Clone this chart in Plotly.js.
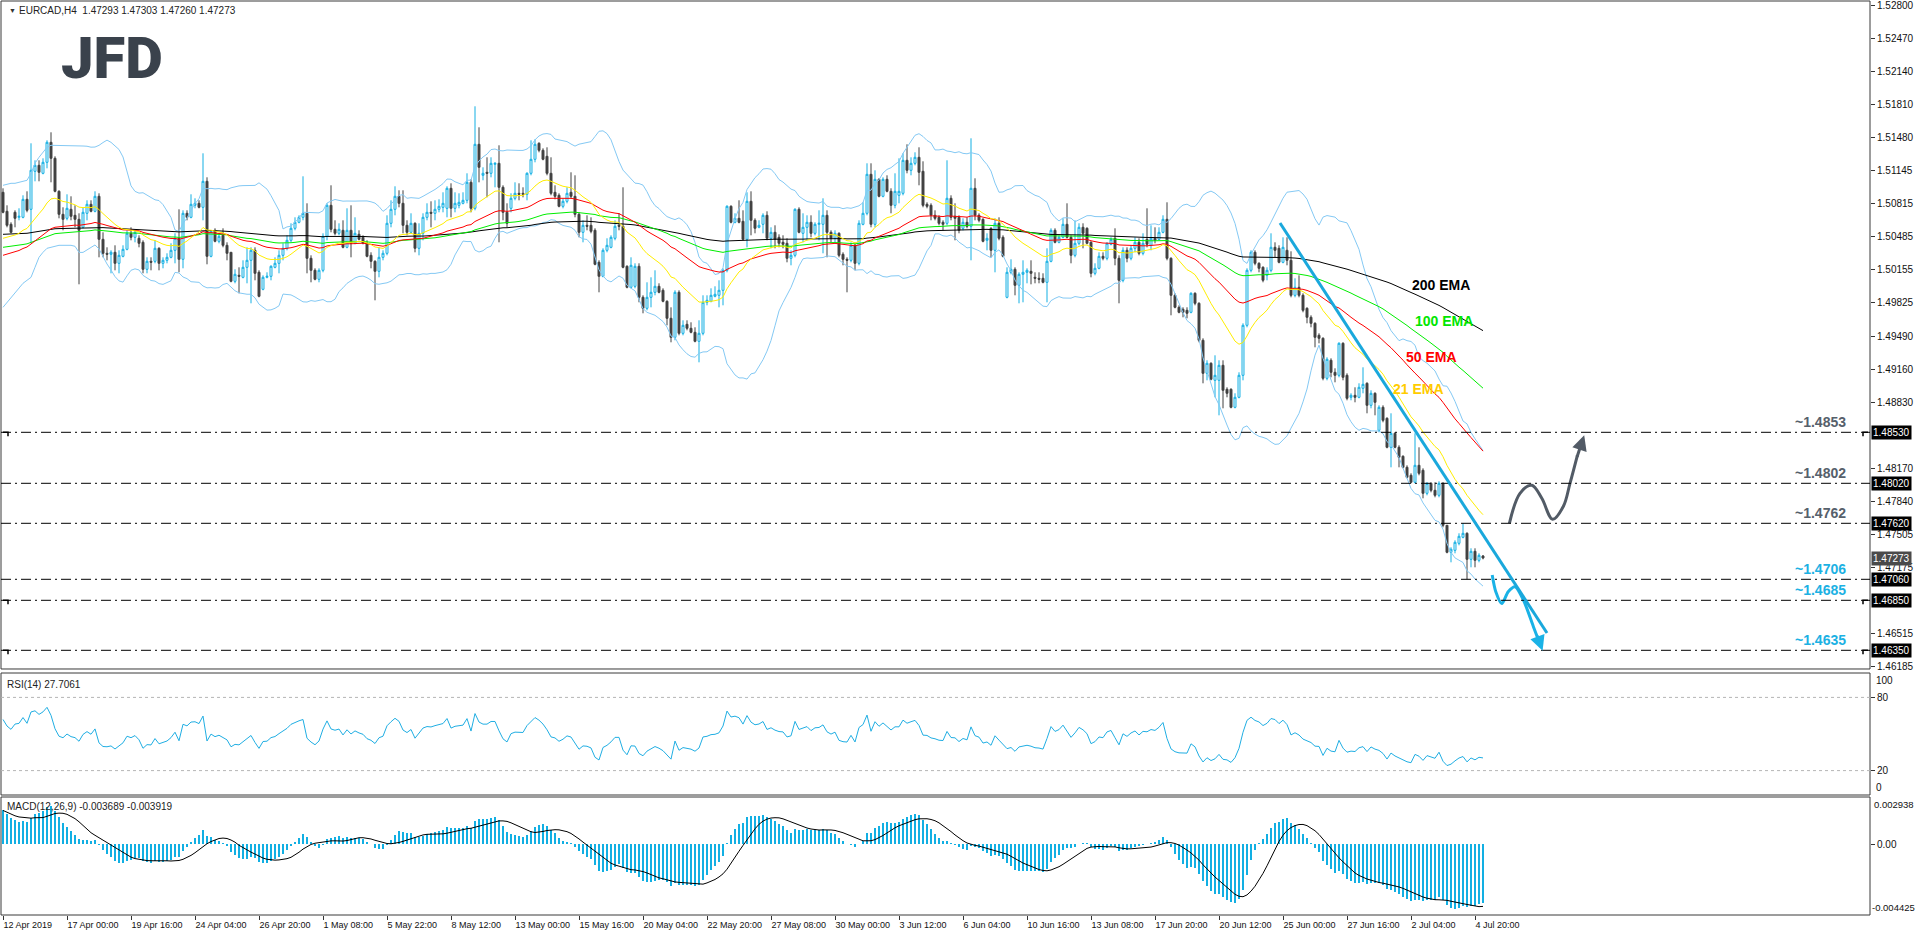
<!DOCTYPE html>
<html><head><meta charset="utf-8">
<script src="https://cdn.plot.ly/plotly-3.0.1.min.js"></script>
<style>html,body{margin:0;padding:0;background:#fff;overflow:hidden}#chart{width:1916px;height:936px}</style>
</head><body><div id="chart"></div>
<script>
// ---- EURCAD H4 candles ----
const openP = [
1.5093,1.5074,1.5061,1.5073,1.5068,1.5068,1.5086,1.5076,1.5114,1.5120,
1.5112,1.5123,1.5143,1.5127,1.5094,1.5071,1.5067,1.5076,1.5070,1.5066,
1.5058,1.5072,1.5081,1.5074,1.5089,1.5046,1.5032,1.5031,1.5033,1.5022,
1.5029,1.5036,1.5052,1.5048,1.5047,1.5043,1.5016,1.5024,1.5024,1.5037,
1.5022,1.5025,1.5028,1.5035,1.5047,1.5026,1.5072,1.5068,1.5080,1.5082,
1.5078,1.5104,1.5029,1.5055,1.5044,1.5050,1.5040,1.5033,1.5004,1.5010,
1.5008,1.5018,1.5025,1.5035,1.5013,1.4996,1.5008,1.5009,1.5018,1.5022,
1.5030,1.5037,1.5045,1.5057,1.5063,1.5068,1.5072,1.5027,1.5015,1.5006,
1.5015,1.5049,1.5080,1.5056,1.5052,1.5055,1.5038,1.5055,1.5042,1.5051,
1.5048,1.5042,1.5030,1.5024,1.5014,1.5028,1.5032,1.5062,1.5076,1.5089,
1.5082,1.5060,1.5053,1.5062,1.5037,1.5052,1.5068,1.5073,1.5072,1.5076,
1.5078,1.5077,1.5097,1.5077,1.5080,1.5082,1.5085,1.5103,1.5077,1.5141,
1.5110,1.5113,1.5112,1.5121,1.5122,1.5098,1.5073,1.5077,1.5087,1.5092,
1.5092,1.5091,1.5112,1.5126,1.5142,1.5135,1.5129,1.5112,1.5093,1.5090,
1.5079,1.5084,1.5093,1.5089,1.5071,1.5053,1.5060,1.5060,1.5055,1.5023,
1.5009,1.5035,1.5038,1.5047,1.5060,1.5059,1.5019,1.4998,1.4999,1.5019,
1.4988,1.4977,1.4988,1.4993,1.4999,1.4995,1.4984,1.4967,1.4948,1.4993,
1.4952,1.4961,1.4957,1.4953,1.4944,1.4952,1.4983,1.4984,1.4989,1.4990,
1.4995,1.5015,1.5079,1.5063,1.5067,1.5064,1.5046,1.5084,1.5065,1.5058,
1.5061,1.5070,1.5047,1.5053,1.5048,1.5043,1.5042,1.5027,1.5030,1.5076,
1.5052,1.5058,1.5063,1.5052,1.5061,1.5061,1.5070,1.5053,1.5047,1.5052,
1.5031,1.5026,1.5025,1.5040,1.5022,1.5061,1.5072,1.5111,1.5061,1.5106,
1.5089,1.5106,1.5094,1.5080,1.5090,1.5092,1.5125,1.5115,1.5122,1.5128,
1.5114,1.5081,1.5080,1.5070,1.5068,1.5063,1.5062,1.5087,1.5069,1.5068,
1.5057,1.5063,1.5059,1.5097,1.5070,1.5066,1.5045,1.5057,1.5035,1.5062,
1.5048,1.4988,1.5013,1.5016,1.5000,1.5011,1.5013,1.5014,1.5008,1.5007,
1.5007,1.5003,1.5024,1.5055,1.5043,1.5048,1.5061,1.5048,1.5030,1.5042,
1.5058,1.5057,1.5043,1.5012,1.5017,1.5029,1.5027,1.5041,1.5047,1.5027,
1.5005,1.5035,1.5027,1.5037,1.5043,1.5032,1.5046,1.5040,1.5047,1.5046,
1.5053,1.5066,1.5027,1.4990,1.4978,1.4976,1.4975,1.4973,1.4992,1.4982,
1.4945,1.4912,1.4922,1.4905,1.4905,1.4920,1.4896,1.4896,1.4878,1.4888,
1.4910,1.4960,1.5015,1.5033,1.5022,1.5018,1.5010,1.5015,1.5038,1.5037,
1.5023,1.5035,1.5025,1.4990,1.4998,1.4990,1.4977,1.4968,1.4962,1.4950,
1.4947,1.4907,1.4925,1.4913,1.4910,1.4942,1.4910,1.4888,1.4890,1.4888,
1.4897,1.4902,1.4880,1.4892,1.4855,1.4878,1.4867,1.4838,1.4852,1.4838,
1.4829,1.4818,1.4810,1.4803,1.4820,1.4815,1.4792,1.4802,1.4795,1.4790,
1.4802,1.4760,1.4733,1.4735,1.4742,1.4748,1.4752,1.4726,1.4734,1.4725,
1.47293];
const highP = [
1.5097,1.5080,1.5063,1.5075,1.5077,1.5090,1.5094,1.5142,1.5125,1.5125,
1.5127,1.5145,1.5153,1.5129,1.5095,1.5078,1.5091,1.5089,1.5080,1.5072,
1.5078,1.5085,1.5085,1.5094,1.5092,1.5053,1.5038,1.5035,1.5040,1.5035,
1.5040,1.5055,1.5058,1.5055,1.5050,1.5045,1.5028,1.5028,1.5045,1.5038,
1.5028,1.5032,1.5042,1.5052,1.5076,1.5075,1.5075,1.5091,1.5087,1.5085,
1.5132,1.5108,1.5055,1.5057,1.5052,1.5057,1.5043,1.5033,1.5016,1.5018,
1.5025,1.5038,1.5038,1.5038,1.5015,1.5010,1.5013,1.5020,1.5028,1.5035,
1.5042,1.5050,1.5062,1.5068,1.5070,1.5109,1.5082,1.5030,1.5017,1.5017,
1.5052,1.5082,1.5100,1.5065,1.5062,1.5065,1.5077,1.5080,1.5068,1.5055,
1.5050,1.5045,1.5033,1.5025,1.5038,1.5035,1.5070,1.5085,1.5099,1.5095,
1.5095,1.5065,1.5072,1.5063,1.5062,1.5072,1.5082,1.5084,1.5085,1.5086,
1.5093,1.5099,1.5102,1.5093,1.5092,1.5093,1.5112,1.5106,1.5179,1.5158,
1.5118,1.5128,1.5128,1.5123,1.5140,1.5100,1.5082,1.5092,1.5103,1.5102,
1.5098,1.5113,1.5145,1.5146,1.5143,1.5137,1.5138,1.5128,1.5100,1.5092,
1.5087,1.5098,1.5113,1.5110,1.5073,1.5065,1.5070,1.5068,1.5057,1.5025,
1.5037,1.5047,1.5050,1.5065,1.5072,1.5098,1.5020,1.5028,1.5022,1.5022,
1.4990,1.5003,1.5008,1.5015,1.5002,1.4997,1.4985,1.4978,1.4995,1.4995,
1.4965,1.4965,1.4963,1.4958,1.4965,1.4990,1.4990,1.4997,1.4999,1.5005,
1.5017,1.5080,1.5080,1.5072,1.5085,1.5075,1.5093,1.5094,1.5067,1.5065,
1.5072,1.5074,1.5058,1.5060,1.5051,1.5050,1.5047,1.5035,1.5077,1.5078,
1.5072,1.5070,1.5070,1.5063,1.5075,1.5087,1.5075,1.5055,1.5055,1.5053,
1.5033,1.5028,1.5043,1.5043,1.5065,1.5083,1.5122,1.5122,1.5115,1.5107,
1.5108,1.5110,1.5097,1.5112,1.5127,1.5132,1.5141,1.5128,1.5133,1.5138,
1.5124,1.5083,1.5082,1.5075,1.5070,1.5065,1.5125,1.5090,1.5082,1.5070,
1.5067,1.5068,1.5147,1.5107,1.5072,1.5067,1.5052,1.5058,1.5067,1.5068,
1.5050,1.5018,1.5026,1.5018,1.5013,1.5025,1.5017,1.5025,1.5013,1.5013,
1.5012,1.5037,1.5057,1.5057,1.5050,1.5067,1.5082,1.5050,1.5065,1.5062,
1.5062,1.5058,1.5044,1.5022,1.5033,1.5033,1.5043,1.5048,1.5057,1.5030,
1.5038,1.5038,1.5040,1.5048,1.5047,1.5052,1.5077,1.5060,1.5058,1.5058,
1.5070,1.5083,1.5028,1.4992,1.4980,1.4978,1.4978,1.4993,1.4993,1.4983,
1.4947,1.4925,1.4923,1.4930,1.4925,1.4925,1.4898,1.4897,1.4892,1.4913,
1.4962,1.5017,1.5035,1.5035,1.5023,1.5019,1.5018,1.5052,1.5043,1.5040,
1.5048,1.5048,1.5034,1.5007,1.5010,1.4992,1.4978,1.4970,1.4963,1.4952,
1.4948,1.4928,1.4927,1.4917,1.4943,1.4943,1.4912,1.4892,1.4898,1.4902,
1.4918,1.4903,1.4895,1.4893,1.4880,1.4880,1.4868,1.4872,1.4853,1.4840,
1.4830,1.4820,1.4812,1.4852,1.4838,1.4817,1.4803,1.4803,1.4803,1.4804,
1.4803,1.4760,1.4738,1.4745,1.4752,1.4762,1.4753,1.4737,1.4737,1.4732,
1.47303];
const lowP = [
1.5072,1.5058,1.5052,1.5058,1.5065,1.5067,1.5073,1.5042,1.5104,1.5104,
1.5111,1.5117,1.5103,1.5093,1.5067,1.5055,1.5065,1.5065,1.5058,1.5001,
1.5057,1.5065,1.5073,1.5073,1.5028,1.5028,1.5025,1.5012,1.5015,1.5012,
1.5028,1.5035,1.5045,1.5043,1.5038,1.5012,1.5012,1.5015,1.5022,1.5015,
1.5017,1.5022,1.5027,1.5022,1.5013,1.5017,1.5065,1.5067,1.5077,1.5077,
1.5065,1.5021,1.5028,1.5043,1.5042,1.5038,1.5025,1.5003,1.5002,1.4992,
1.5007,1.5002,1.4982,1.5005,1.4988,1.4995,1.5007,1.5005,1.5017,1.5012,
1.5025,1.5035,1.5043,1.5055,1.5062,1.5065,1.5012,1.5003,1.5005,1.5003,
1.5013,1.5045,1.5053,1.5050,1.5050,1.5037,1.5037,1.5028,1.5041,1.5045,
1.5041,1.5028,1.5017,1.4985,1.5008,1.5025,1.5030,1.5058,1.5070,1.5078,
1.5052,1.5050,1.5052,1.5033,1.5030,1.5045,1.5065,1.5058,1.5065,1.5073,
1.5073,1.5068,1.5068,1.5073,1.5077,1.5081,1.5082,1.5073,1.5075,1.5103,
1.5105,1.5088,1.5108,1.5098,1.5043,1.5065,1.5058,1.5073,1.5085,1.5085,
1.5088,1.5085,1.5110,1.5123,1.5133,1.5125,1.5110,1.5090,1.5086,1.5078,
1.5077,1.5082,1.5087,1.5068,1.5048,1.5043,1.5055,1.5052,1.5020,1.4993,
1.5008,1.5033,1.5037,1.5045,1.5055,1.5017,1.4997,1.4997,1.4997,1.4983,
1.4972,1.4975,1.4978,1.4990,1.4992,1.4983,1.4960,1.4943,1.4945,1.4950,
1.4950,1.4955,1.4952,1.4943,1.4923,1.4950,1.4980,1.4983,1.4988,1.4978,
1.4980,1.5013,1.5062,1.5062,1.5062,1.5045,1.5038,1.5050,1.5052,1.5057,
1.5052,1.5045,1.5037,1.5037,1.5038,1.5037,1.5023,1.5020,1.5028,1.5052,
1.5043,1.5045,1.5048,1.5050,1.5045,1.5032,1.5028,1.5043,1.5043,1.5028,
1.5020,1.4993,1.5023,1.5015,1.5020,1.5060,1.5070,1.5058,1.5058,1.5088,
1.5088,1.5093,1.5072,1.5077,1.5082,1.5090,1.5112,1.5110,1.5120,1.5100,
1.5078,1.5077,1.5065,1.5065,1.5060,1.5055,1.5060,1.5065,1.5045,1.5052,
1.5055,1.5057,1.5025,1.5065,1.5063,1.5043,1.5035,1.5028,1.5013,1.5045,
1.5028,1.4987,1.5011,1.4990,1.4982,1.4983,1.5002,1.5001,1.5002,1.5002,
1.5002,1.4983,1.5023,1.5042,1.5042,1.5047,1.5047,1.5022,1.5028,1.5040,
1.5037,1.5041,1.5008,1.5010,1.5016,1.5025,1.5025,1.5040,1.5020,1.4982,
1.5003,1.5023,1.5025,1.5033,1.5030,1.5030,1.5038,1.5035,1.5042,1.5045,
1.5052,1.5025,1.4970,1.4977,1.4972,1.4968,1.4967,1.4972,1.4980,1.4943,
1.4902,1.4905,1.4905,1.4888,1.4870,1.4877,1.4888,1.4877,1.4877,1.4887,
1.4905,1.4958,1.5013,1.5020,1.5013,1.5003,1.5005,1.5013,1.5028,1.5022,
1.5022,1.5020,1.4988,1.4988,1.4988,1.4973,1.4962,1.4958,1.4938,1.4942,
1.4905,1.4905,1.4908,1.4903,1.4908,1.4905,1.4885,1.4885,1.4883,1.4887,
1.4892,1.4872,1.4877,1.4870,1.4853,1.4863,1.4837,1.4818,1.4837,1.4818,
1.4817,1.4807,1.4802,1.4802,1.4810,1.4787,1.4790,1.4793,1.4788,1.4788,
1.4758,1.4732,1.4723,1.4732,1.4740,1.4747,1.4706,1.4718,1.4718,1.4723,
1.47260];
const closeP = [
1.5073,1.5060,1.5053,1.5067,1.5069,1.5086,1.5075,1.5115,1.5120,1.5113,
1.5123,1.5143,1.5127,1.5094,1.5071,1.5066,1.5077,1.5069,1.5066,1.5055,
1.5073,1.5081,1.5074,1.5089,1.5046,1.5032,1.5031,1.5033,1.5022,1.5030,
1.5036,1.5052,1.5048,1.5053,1.5042,1.5016,1.5024,1.5023,1.5037,1.5022,
1.5025,1.5028,1.5035,1.5047,1.5026,1.5072,1.5068,1.5081,1.5082,1.5078,
1.5104,1.5029,1.5054,1.5044,1.5049,1.5040,1.5032,1.5004,1.5011,1.5009,
1.5018,1.5025,1.5035,1.5012,1.4989,1.5008,1.5009,1.5019,1.5022,1.5030,
1.5037,1.5045,1.5057,1.5063,1.5068,1.5072,1.5027,1.5015,1.5006,1.5015,
1.5049,1.5080,1.5056,1.5052,1.5056,1.5038,1.5055,1.5042,1.5052,1.5046,
1.5042,1.5029,1.5024,1.5014,1.5028,1.5032,1.5062,1.5076,1.5089,1.5082,
1.5060,1.5053,1.5062,1.5037,1.5052,1.5068,1.5073,1.5072,1.5076,1.5079,
1.5082,1.5097,1.5077,1.5082,1.5083,1.5085,1.5103,1.5077,1.5141,1.5118,
1.5112,1.5112,1.5122,1.5122,1.5098,1.5073,1.5062,1.5087,1.5092,1.5091,
1.5091,1.5112,1.5126,1.5141,1.5135,1.5126,1.5112,1.5092,1.5089,1.5079,
1.5084,1.5092,1.5089,1.5071,1.5053,1.5060,1.5059,1.5054,1.5021,1.5009,
1.5035,1.5040,1.5048,1.5059,1.5059,1.5018,1.4998,1.5020,1.5019,1.4988,
1.4977,1.4988,1.4993,1.4999,1.4993,1.4984,1.4967,1.4948,1.4993,1.4952,
1.4960,1.4957,1.4953,1.4944,1.4952,1.4983,1.4985,1.4990,1.4991,1.4995,
1.5015,1.5079,1.5063,1.5067,1.5063,1.5046,1.5084,1.5065,1.5057,1.5060,
1.5070,1.5047,1.5053,1.5046,1.5042,1.5041,1.5027,1.5030,1.5076,1.5053,
1.5058,1.5063,1.5052,1.5061,1.5062,1.5070,1.5053,1.5047,1.5052,1.5030,
1.5026,1.5025,1.5040,1.5022,1.5062,1.5072,1.5111,1.5061,1.5106,1.5089,
1.5106,1.5094,1.5080,1.5094,1.5094,1.5125,1.5115,1.5122,1.5128,1.5113,
1.5080,1.5079,1.5070,1.5067,1.5062,1.5061,1.5087,1.5068,1.5067,1.5055,
1.5063,1.5059,1.5097,1.5070,1.5065,1.5044,1.5047,1.5035,1.5062,1.5047,
1.5029,1.5013,1.5016,1.5000,1.5011,1.5013,1.5015,1.5012,1.5007,1.5006,
1.5003,1.5024,1.5055,1.5043,1.5048,1.5061,1.5048,1.5030,1.5042,1.5058,
1.5052,1.5042,1.5012,1.5017,1.5029,1.5027,1.5042,1.5046,1.5027,1.5005,
1.5035,1.5027,1.5037,1.5043,1.5032,1.5042,1.5041,1.5047,1.5045,1.5053,
1.5066,1.5027,1.4990,1.4978,1.4973,1.4973,1.4972,1.4992,1.4982,1.4945,
1.4912,1.4922,1.4906,1.4910,1.4920,1.4895,1.4892,1.4878,1.4888,1.4910,
1.4960,1.5015,1.5033,1.5022,1.5017,1.5005,1.5015,1.5038,1.5035,1.5023,
1.5038,1.5025,1.4990,1.4998,1.4990,1.4975,1.4968,1.4962,1.4948,1.4947,
1.4907,1.4926,1.4913,1.4910,1.4942,1.4908,1.4887,1.4890,1.4888,1.4898,
1.4901,1.4880,1.4892,1.4883,1.4878,1.4865,1.4838,1.4852,1.4838,1.4828,
1.4818,1.4808,1.4803,1.4820,1.4812,1.4792,1.4802,1.4795,1.4790,1.4802,
1.4760,1.4733,1.4736,1.4743,1.4749,1.4752,1.4726,1.4734,1.4725,1.4730,
1.47273];

// ---- axis labels ----
const xTickPos = [0,16,32,48,64,80,96,112,128,144,160,176,192,208,224,240,256,272,288,304,320,336,352,368];
const xTickLabels = ['12 Apr 2019','17 Apr 00:00','19 Apr 16:00','24 Apr 04:00','26 Apr 20:00','1 May 08:00','5 May 22:00','8 May 12:00','13 May 00:00','15 May 16:00','20 May 04:00','22 May 20:00','27 May 08:00','30 May 00:00','3 Jun 12:00','6 Jun 04:00','10 Jun 16:00','13 Jun 08:00','17 Jun 20:00','20 Jun 12:00','25 Jun 00:00','27 Jun 16:00','2 Jul 04:00','4 Jul 20:00'];
const priceTicks = [1.52800,1.52470,1.52140,1.51810,1.51480,1.51145,1.50815,1.50485,1.50155,1.49825,1.49490,1.49160,1.48830,1.48170,1.47840,1.47505,1.47175,1.46515,1.46185];

// ---- horizontal levels and drawings ----
const levels = [1.4853,1.4802,1.4762,1.4706,1.4685,1.4635];
const levelTexts = ['~1.4853','~1.4802','~1.4762','~1.4706','~1.4685','~1.4635'];
const levelBoxTexts = ['1.48530','1.48020','1.47620','1.47060','1.46850','1.46350'];
const levelCornerMarks = [true,false,false,false,true,true];
const lastPrice = 1.47273;
const trendX = [319.25, 386];
const trendY = [1.50623, 1.46523];
const grayPathX = [376.6,379.25,382.2,384.7,387.4,390.1,391.75,393.6];
const grayPathY = [1.4762,1.4792,1.4800,1.4787,1.4766,1.4779,1.4802,1.4830];
const cyanPathX = [372.3,373.2,374.7,376.3,378.0,380.1,382.6,383.6];
const cyanPathY = [1.47103,1.46936,1.46817,1.46936,1.46986,1.46853,1.46586,1.4648];

// ---- indicator start values ----
const emaPeriods = [21,50,100,200];
const emaStart = [1.5047,1.5030,1.5038,1.5051];
const bbUpperStart = [1.5100,1.5101,1.5102,1.5102,1.5103,1.5104,1.5105,1.5112,1.5122,1.5128,1.5133,1.5138,1.5140,1.5140,1.5140,1.5140,1.5140,1.5140,1.5140];
const bbLowerStart = [1.4978,1.4983,1.4988,1.4993,1.4998,1.5002,1.5005,1.5008,1.5018,1.5028,1.5033,1.5037,1.5038,1.5039,1.5040,1.5040,1.5040,1.5040,1.5039];
const macdEmaStart = [1.5070,1.5049];
const rsiAvgStart = [0.00065,0.00040];

const n = closeP.length;
const idx = Array.from({length:n},(_,i)=>i);

function ema(period, seed){
  const k = 2/(period+1); const out=[seed]; let e=seed;
  for(let i=1;i<n;i++){ e = e + k*(closeP[i]-e); out.push(e); }
  return out;
}
const emas = emaPeriods.map((p,j)=>ema(p,emaStart[j]));

const bbU=[], bbL=[];
for(let i=0;i<n;i++){
  if(i<19){ bbU.push(bbUpperStart[i]); bbL.push(bbLowerStart[i]); continue; }
  let s=0; for(let j=i-19;j<=i;j++) s+=closeP[j];
  const m=s/20; let v=0; for(let j=i-19;j<=i;j++) v+=(closeP[j]-m)**2;
  const sd=Math.sqrt(v/20); bbU.push(m+2*sd); bbL.push(m-2*sd);
}

const rsi=[]; let ag=rsiAvgStart[0], al=rsiAvgStart[1];
rsi.push(100-100/(1+ag/al));
for(let i=1;i<n;i++){
  const d=closeP[i]-closeP[i-1];
  ag=(ag*13+Math.max(d,0))/14; al=(al*13+Math.max(-d,0))/14;
  rsi.push(al===0?100:100-100/(1+ag/al));
}

const e12=[macdEmaStart[0]], e26=[macdEmaStart[1]];
for(let i=1;i<n;i++){ e12.push(e12[i-1]+(2/13)*(closeP[i]-e12[i-1])); e26.push(e26[i-1]+(2/27)*(closeP[i]-e26[i-1])); }
const macd = idx.map(i=>e12[i]-e26[i]);
const signal = idx.map(i=>{ const a=Math.max(0,i-8); let s=0; for(let j=a;j<=i;j++) s+=macd[j]; return s/(i-a+1); });

const BULL='#12afe3', BEAR='#414141';
const traces = [
  {type:'candlestick', x:idx, open:openP, high:highP, low:lowP, close:closeP, xaxis:'x', yaxis:'y',
   increasing:{line:{color:BULL,width:1}, fillcolor:'#ffffff'},
   decreasing:{line:{color:BEAR,width:1}, fillcolor:BEAR},
   whiskerwidth:0, hoverinfo:'skip', showlegend:false},
  {type:'scatter', mode:'lines', x:idx, y:bbU, line:{color:'#84c9f4',width:1}, xaxis:'x', yaxis:'y', hoverinfo:'skip'},
  {type:'scatter', mode:'lines', x:idx, y:bbL, line:{color:'#84c9f4',width:1}, xaxis:'x', yaxis:'y', hoverinfo:'skip'},
  {type:'scatter', mode:'lines', x:idx, y:emas[3], line:{color:'#000000',width:1}, xaxis:'x', yaxis:'y', hoverinfo:'skip'},
  {type:'scatter', mode:'lines', x:idx, y:emas[2], line:{color:'#00ee00',width:1}, xaxis:'x', yaxis:'y', hoverinfo:'skip'},
  {type:'scatter', mode:'lines', x:idx, y:emas[1], line:{color:'#ff0000',width:1}, xaxis:'x', yaxis:'y', hoverinfo:'skip'},
  {type:'scatter', mode:'lines', x:idx, y:emas[0], line:{color:'#ffee00',width:1}, xaxis:'x', yaxis:'y', hoverinfo:'skip'},
  {type:'scatter', mode:'lines', x:grayPathX, y:grayPathY, line:{color:'#525b66',width:3,shape:'spline',smoothing:1}, xaxis:'x', yaxis:'y', hoverinfo:'skip'},
  {type:'scatter', mode:'lines', x:cyanPathX, y:cyanPathY, line:{color:'#1ab2e6',width:3,shape:'spline',smoothing:0.8}, xaxis:'x', yaxis:'y', hoverinfo:'skip'},
  {type:'scatter', mode:'lines', x:idx, y:rsi, line:{color:'#20aee3',width:1}, xaxis:'x', yaxis:'y2', hoverinfo:'skip'},
  {type:'bar', x:idx, y:macd, width:0.3, marker:{color:'#12afe3',line:{width:0}}, xaxis:'x', yaxis:'y3', hoverinfo:'skip'},
  {type:'scatter', mode:'lines', x:idx, y:signal, line:{color:'#000000',width:1}, xaxis:'x', yaxis:'y3', hoverinfo:'skip'}
];

const px2x = px => (px-1)/1869;
const py2y = py => (915-py)/914;
const FONT = 'Liberation Sans, Arial, sans-serif';
const BOLDFONT = 'Liberation Sans, Arial, sans-serif';

const shapes = [];
['y','y2','y3'].forEach(a=>shapes.push({type:'rect', xref:'paper', yref:a+' domain', x0:0, x1:1, y0:0, y1:1, line:{color:'#3a3a3a',width:1}, fillcolor:'rgba(0,0,0,0)'}));
levels.forEach(l=>shapes.push({type:'line', xref:'paper', yref:'y', x0:0, x1:1, y0:l, y1:l, line:{color:'#000',width:1,dash:'10px,4px,2px,4px'}}));
levels.forEach((l,k)=>{
  if(!levelCornerMarks[k]) return;
  shapes.push({type:'path', xref:'paper', yref:'y', xsizemode:'pixel', ysizemode:'pixel', xanchor:0, yanchor:l, path:'M 2 0 L 7 0 L 7 -4', line:{color:'#000',width:1.5}});
  shapes.push({type:'path', xref:'paper', yref:'y', xsizemode:'pixel', ysizemode:'pixel', xanchor:1, yanchor:l, path:'M -7 -4 L -7 0 L -2 0', line:{color:'#000',width:1.5}});
});
[80,20].forEach(l=>shapes.push({type:'line', xref:'paper', yref:'y2', x0:0, x1:1, y0:l, y1:l, line:{color:'#b5b5b5',width:1,dash:'3px,3px'}}));
shapes.push({type:'line', xref:'x', yref:'y', x0:trendX[0], x1:trendX[1], y0:trendY[0], y1:trendY[1], line:{color:'#1aa8dc',width:3}});

const annotations = [];
annotations.push({xref:'paper',yref:'paper',x:px2x(7),y:py2y(11),xanchor:'left',yanchor:'middle',text:'▼',showarrow:false,font:{family:FONT,size:7,color:'#333'}});
annotations.push({xref:'paper',yref:'paper',x:px2x(17),y:py2y(11),xanchor:'left',yanchor:'middle',text:'EURCAD,H4\u00a0 1.47293 1.47303 1.47260 1.47273',showarrow:false,font:{family:FONT,size:10,color:'#222'}});
annotations.push({xref:'paper',yref:'paper',x:px2x(112),y:py2y(58),xanchor:'center',yanchor:'middle',text:'JFD',showarrow:false,font:{family:'Roboto, sans-serif',size:58,color:'#3a424c',weight:900}});
annotations.push({xref:'paper',yref:'paper',x:px2x(5),y:py2y(684),xanchor:'left',yanchor:'middle',text:'RSI(14) 27.7061',showarrow:false,font:{family:FONT,size:10,color:'#222'}});
annotations.push({xref:'paper',yref:'paper',x:px2x(5),y:py2y(806),xanchor:'left',yanchor:'middle',text:'MACD(12,26,9) -0.003689 -0.003919',showarrow:false,font:{family:FONT,size:10,color:'#222'}});
// EMA labels
const emaLabels = [['200 EMA',359.5,1.50003,'#000000'],['100 EMA',360.25,1.49643,'#00e600'],['50 EMA',357,1.49283,'#ff0000'],['21 EMA',353.75,1.48963,'#ffcc00']];
emaLabels.forEach(e=>annotations.push({xref:'x',yref:'y',x:e[1],y:e[2],text:'<b>'+e[0]+'</b>',showarrow:false,xanchor:'center',yanchor:'middle',font:{family:BOLDFONT,size:14,color:e[3]}}));
// level labels
levels.forEach((l,k)=>annotations.push({xref:'x',yref:'y',x:461.25,y:l,text:'<b>'+levelTexts[k]+'</b>',showarrow:false,xanchor:'right',yanchor:'bottom',yshift:0,font:{family:BOLDFONT,size:14,color:k<3?'#56606b':'#1cb1e3'}}));
// right axis boxes
levels.forEach((l,k)=>annotations.push({xref:'paper',yref:'y',x:1,y:l,xanchor:'left',yanchor:'middle',xshift:1,text:levelBoxTexts[k],showarrow:false,bgcolor:'#000',borderpad:1,font:{family:FONT,size:10,color:'#fff'}}));
annotations.push({xref:'paper',yref:'y',x:1,y:lastPrice,xanchor:'left',yanchor:'middle',xshift:1,text:'1.47273',showarrow:false,bgcolor:'#4a4a4a',borderpad:1,font:{family:FONT,size:10,color:'#fff'}});
// arrowheads
annotations.push({xref:'x',yref:'y',axref:'x',ayref:'y',x:395.3,y:1.4850,ax:393.4,ay:1.4827,text:'',showarrow:true,arrowhead:2,arrowsize:1,arrowwidth:3,arrowcolor:'#525b66',standoff:0,startstandoff:0});
annotations.push({xref:'x',yref:'y',axref:'x',ayref:'y',x:384.9,y:1.46346,ax:383.4,ay:1.4651,text:'',showarrow:true,arrowhead:2,arrowsize:1,arrowwidth:3,arrowcolor:'#1ab2e6',standoff:0,startstandoff:0});
// RSI / MACD edge labels
annotations.push({xref:'paper',yref:'y2',x:1,y:100,xanchor:'left',yanchor:'top',xshift:4,text:'100',showarrow:false,font:{family:FONT,size:10,color:'#111'}});
annotations.push({xref:'paper',yref:'y2',x:1,y:0,xanchor:'left',yanchor:'bottom',xshift:4,text:'0',showarrow:false,font:{family:FONT,size:10,color:'#111'}});
annotations.push({xref:'paper',yref:'y3',x:1,y:0.002938,xanchor:'left',yanchor:'top',xshift:2,text:'0.002938',showarrow:false,font:{family:FONT,size:9.5,color:'#111'}});
annotations.push({xref:'paper',yref:'y3',x:1,y:-0.004425,xanchor:'left',yanchor:'bottom',xshift:0,text:'-0.004425',showarrow:false,font:{family:FONT,size:9.5,color:'#111'}});

const axisCommon = {showgrid:false, zeroline:false, showline:false, fixedrange:true, ticks:'outside', ticklen:4, tickcolor:'#333', ticklabeloverflow:'allow', tickfont:{family:FONT,size:10,color:'#111'}};
const layout = {
  width:1916, height:936, margin:{l:1,r:46,t:1,b:21}, paper_bgcolor:'#fff', plot_bgcolor:'#fff', showlegend:false,
  font:{family:FONT,size:10,color:'#111'}, bargap:0,
  xaxis:Object.assign({}, axisCommon, {range:[-0.5,466.75], anchor:'y3', tickmode:'array', tickvals:xTickPos, ticktext:xTickLabels, tickangle:0, ticklabelposition:'outside right', ticklabelstandoff:1, rangeslider:{visible:false}, tickfont:{family:FONT,size:9,color:'#111'}}),
  yaxis:Object.assign({}, axisCommon, {domain:[0.26915,1], range:[1.46163,1.52843], side:'right', anchor:'x', tickmode:'array', tickvals:priceTicks, ticktext:priceTicks.map(v=>v.toFixed(5))}),
  yaxis2:Object.assign({}, axisCommon, {domain:[0.13129,0.26477], range:[0,100], side:'right', anchor:'x', tickmode:'array', tickvals:[80,20], ticktext:['80','20']}),
  yaxis3:Object.assign({}, axisCommon, {domain:[0,0.1291], range:[-0.004425,0.002938], side:'right', anchor:'x', tickmode:'array', tickvals:[0], ticktext:['0.00']}),
  shapes:shapes, annotations:annotations
};
Plotly.newPlot('chart', traces, layout, {displayModeBar:false, staticPlot:true});
</script>
</body></html>
